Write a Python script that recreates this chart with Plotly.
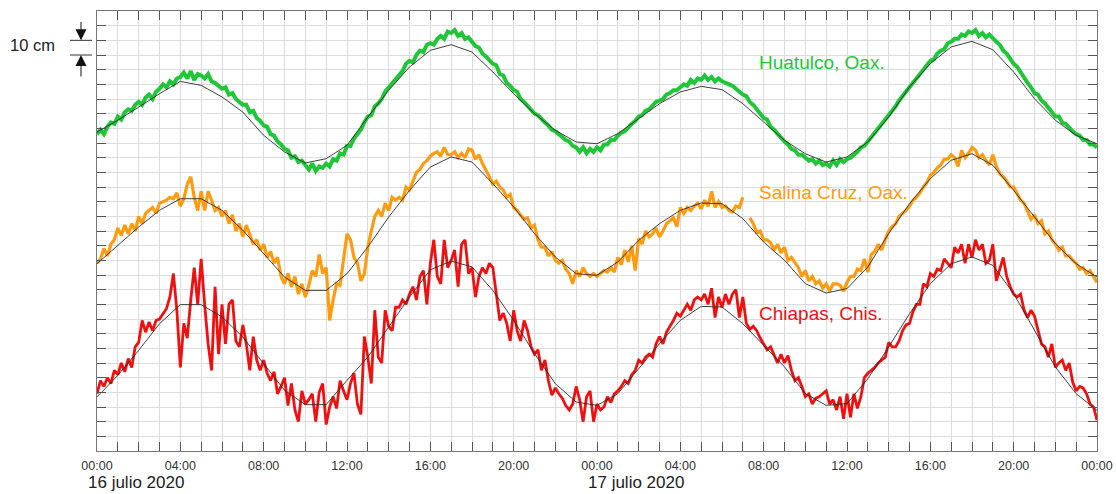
import plotly.graph_objects as go

# ---------------- data (sea level, cm above plot baseline) ----------------
hours = list(range(49))                       # hourly predicted tide
obs_times = [i / 6 for i in range(289)]       # 10-minute observed record (hours)

x_tick_labels = ["00:00" if h % 24 == 0 else (f"{h % 24:02d}:00" if h % 4 == 0 else "")
                 for h in hours]
day_labels = ["16 julio 2020", "17 julio 2020"]
day_hours = [0, 24]
station_names = ["Huatulco, Oax.", "Salina Cruz, Oax.", "Chiapas, Chis."]
station_colors = ["#1fc738", "#ff9b0f", "#f01010"]
label_y = [265, 176, 94]

huatulco_pred = [217.5, 225.5, 234.5, 243.6, 252.0, 249.3, 241.4, 231.1, 215.2, 203.9,
                 196.4, 199.3, 208.4, 227.7, 245.9, 261.8, 273.2, 277.0, 272.0, 258.4,
                 243.6, 230.0, 218.6, 210.7, 209.5, 216.4, 226.6, 236.8, 244.8, 248.6,
                 246.4, 236.8, 224.3, 211.8, 202.7, 197.0, 200.5, 210.7, 227.7, 248.2,
                 264.1, 275.5, 279.3, 273.6, 258.4, 240.2, 225.5, 215.2, 209.5]

salina_pred = [127.7, 140.2, 152.7, 164.1, 172.0, 172.0, 164.1, 150.5, 134.5, 118.6,
               109.5, 109.5, 120.9, 139.1, 159.5, 177.7, 193.6, 200.5, 197.0, 182.3,
               166.4, 148.2, 132.3, 120.9, 119.8, 128.9, 143.6, 155.0, 164.1, 169.1,
               168.6, 158.4, 142.5, 130.0, 114.1, 107.7, 110.7, 125.5, 148.2, 168.6,
               185.7, 198.2, 202.7, 194.8, 177.7, 159.5, 141.4, 127.7, 118.6]

chiapas_pred = [36.8, 51.6, 68.6, 86.8, 99.8, 99.8, 91.4, 77.7, 59.5, 41.4,
                31.6, 31.6, 48.2, 64.1, 84.5, 105.0, 123.6, 129.5, 125.5, 109.5,
                89.1, 66.4, 45.9, 33.4, 31.1, 39.1, 56.1, 73.2, 89.1, 98.6,
                98.2, 86.8, 72.0, 57.3, 39.1, 31.1, 32.3, 49.3, 70.9, 93.6,
                114.1, 127.7, 132.3, 126.6, 107.3, 82.3, 57.3, 39.1, 27.7]

huatulco_obs = [
    216, 219, 216, 221, 224, 223,
    228, 226, 231, 233, 232, 236,
    238, 236, 241, 243, 240, 245,
    247, 250, 248, 252, 250, 254,
    255, 258, 254, 259, 253, 257,
    256, 254, 257, 252, 251, 249,
    247, 248, 243, 244, 240, 238,
    236, 236, 231, 232, 227, 225,
    222, 221, 216, 215, 211, 209,
    206, 205, 200, 201, 197, 198,
    195, 192, 196, 191, 194, 193,
    196, 194, 199, 198, 203, 202,
    208, 208, 213, 216, 219, 224,
    228, 229, 235, 237, 240, 245,
    248, 250, 254, 257, 259, 264,
    266, 265, 270, 273, 272, 277,
    278, 277, 281, 283, 281, 286,
    285, 287, 283, 285, 281, 282,
    279, 276, 275, 271, 269, 266,
    264, 263, 257, 256, 251, 249,
    246, 245, 240, 238, 235, 232,
    230, 229, 226, 224, 222, 219,
    218, 216, 214, 212, 211, 208,
    207, 204, 207, 203, 206, 204,
    207, 205, 209, 209, 212, 212,
    215, 217, 218, 221, 223, 225,
    228, 229, 232, 233, 236, 238,
    239, 240, 243, 244, 246, 246,
    248, 250, 249, 253, 251, 254,
    253, 256, 253, 255, 252, 254,
    252, 251, 250, 249, 247, 245,
    243, 242, 238, 236, 233, 230,
    227, 226, 221, 219, 216, 213,
    211, 209, 206, 205, 202, 202,
    200, 198, 199, 196, 198, 195,
    196, 194, 198, 195, 199, 197,
    199, 200, 202, 204, 207, 208,
    211, 214, 216, 220, 223, 226,
    229, 232, 235, 239, 242, 245,
    248, 250, 254, 257, 259, 263,
    266, 267, 271, 273, 274, 278,
    279, 281, 281, 284, 283, 286,
    285, 287, 283, 285, 282, 284,
    281, 279, 277, 273, 271, 267,
    264, 262, 258, 255, 251, 248,
    244, 243, 239, 237, 234, 231,
    228, 228, 224, 223, 220, 218,
    216, 215, 212, 212, 209, 209,
    207]

salina_obs = [
    128, 131, 138, 133, 141, 144,
    152, 147, 154, 148, 155, 150,
    160, 155, 162, 164, 166, 162,
    169, 170, 171, 173, 172, 176,
    167, 172, 182, 187, 173, 164,
    177, 164, 177, 171, 164, 166,
    160, 164, 155, 161, 150, 155,
    146, 154, 148, 141, 144, 137,
    141, 132, 136, 128, 132, 119,
    114, 121, 112, 119, 107, 114,
    105, 113, 123, 119, 134, 121,
    125, 89, 103, 114, 113, 132,
    148, 144, 132, 128, 116, 121,
    139, 150, 160, 164, 160, 169,
    164, 173, 171, 173, 171, 180,
    178, 184, 190, 192, 196, 198,
    201, 203, 204, 201, 207, 202,
    202, 204, 200, 203, 200, 206,
    205, 199, 202, 196, 192, 187,
    182, 184, 180, 178, 173, 175,
    166, 164, 161, 158, 159, 152,
    154, 144, 139, 139, 133, 136,
    130, 128, 130, 124, 121, 114,
    123, 119, 125, 121, 119, 121,
    119, 121, 123, 122, 125, 122,
    132, 127, 137, 129, 140, 123,
    145, 141, 150, 146, 148, 152,
    146, 150, 155, 157, 159, 153,
    166, 162, 166, 164, 167, 169,
    165, 171, 167, 177, 166, 170,
    166, 167, 164, 163, 167, 166,
    173, None, 159, 155, 149, 150,
    144, 144, 142, 137, 141, 135,
    139, 130, 132, 128, 125, 119,
    123, 116, 119, 114, 116, 111,
    114, 109, 114, 114, 113, 109,
    115, 119, 119, 124, 123, 131,
    122, 134, 136, 141, 137, 144,
    150, 153, 155, 160, 162, 164,
    167, 171, 173, 176, 180, 183,
    188, 190, 193, 195, 199, 199,
    202, 200, 194, 205, 200, 203,
    207, 205, 200, 202, 198, 195,
    202, 194, 189, 187, 184, 180,
    180, 175, 171, 169, 164, 158,
    161, 155, 157, 148, 150, 144,
    141, 137, 139, 133, 133, 130,
    128, 124, 125, 121, 123, 119,
    115]

chiapas_obs = [
    39, 48, 44, 50, 46, 55,
    52, 60, 54, 63, 57, 71,
    74, 89, 81, 88, 82, 89,
    90, 94, 97, 105, 121, 96,
    57, 87, 77, 103, 125, 100,
    131, 100, 73, 55, 112, 66,
    100, 73, 100, 103, 75, 71,
    86, 73, 55, 78, 62, 55,
    62, 53, 48, 54, 39, 44,
    50, 31, 46, 28, 20, 41,
    32, 35, 39, 20, 40, 46,
    18, 30, 37, 29, 48, 41,
    35, 46, 53, 32, 25, 78,
    64, 46, 96, 64, 60, 96,
    85, 82, 98, 98, 103, 100,
    107, 112, 103, 119, 123, 100,
    128, 144, 119, 114, 144, 125,
    130, 137, 112, 141, 144, 121,
    125, 105, 119, 125, 121, 128,
    125, 107, 89, 94, 87, 75,
    96, 82, 75, 89, 82, 71,
    66, 69, 55, 62, 48, 38,
    43, 39, 36, 31, 28, 32,
    44, 35, 20, 37, 41, 20,
    32, 28, 30, 37, 33, 39,
    41, 44, 48, 46, 52, 55,
    62, 60, 64, 66, 64, 73,
    78, 73, 81, 85, 89, 94,
    92, 96, 100, 96, 103, 105,
    103, 107, 100, 111, 91, 105,
    98, 107, 100, 107, 110, 91,
    105, 87, 83, 85, 82, 77,
    73, 69, 71, 66, 60, 66,
    60, 65, 55, 48, 50, 44,
    37, 39, 32, 36, 37, 39,
    41, 32, 35, 28, 37, 22,
    39, 23, 39, 29, 37, 50,
    53, 55, 57, 60, 62, 64,
    74, 71, 71, 75, 82, 86,
    87, 95, 100, 100, 114, 112,
    121, 119, 124, 123, 131, 128,
    125, 139, 135, 141, 128, 141,
    132, 144, 137, 141, 128, 130,
    141, 116, 125, 132, 119, 112,
    107, 105, 107, 96, 91, 96,
    92, 82, 73, 71, 64, 73,
    57, 60, 62, 55, 60, 47,
    41, 44, 43, 39, 32, 30,
    21]

observed = [huatulco_obs, salina_obs, chiapas_obs]
predicted = [huatulco_pred, salina_pred, chiapas_pred]

# ---------------- figure ----------------
fig = go.Figure()
for obs, col, w in zip(observed, station_colors, [4, 3.2, 2.8]):
    fig.add_trace(go.Scatter(x=obs_times, y=obs, mode="lines",
                             line=dict(color=col, width=w),
                             connectgaps=False, hoverinfo="skip"))
for pred in predicted:
    fig.add_trace(go.Scatter(x=hours, y=pred, mode="lines",
                             line=dict(color="#2a2a2a", width=0.9),
                             hoverinfo="skip"))

font_family = "Liberation Sans, Arial, sans-serif"

for name, col, yy in zip(station_names, station_colors, label_y):
    fig.add_annotation(x=31.68, y=yy, xref="x", yref="y", text=name,
                       showarrow=False, xanchor="left", yanchor="middle",
                       font=dict(family=font_family, size=19, color=col))

for lab, h in zip(day_labels, day_hours):
    fig.add_annotation(x=h, y=0, xref="x", yref="paper", text=lab,
                       showarrow=False, xanchor="left", yanchor="middle",
                       xshift=-11, yshift=-31,
                       font=dict(family=font_family, size=17, color="#222"))

# 10 cm scale marker
fig.add_annotation(x=-0.089, y=277, xref="paper", yref="y", text="10 cm",
                   showarrow=False, xanchor="left", yanchor="middle",
                   font=dict(family=font_family, size=16.5, color="#222"))
for yv in [280, 270]:
    fig.add_shape(type="line", xref="paper", yref="y", x0=-0.027, x1=-0.005,
                  y0=yv, y1=yv, line=dict(color="#333", width=1))
fig.add_annotation(x=-0.016, y=280, xref="paper", yref="y", text="",
                   showarrow=True, ax=0, ay=-20, arrowhead=2, arrowsize=2.2,
                   arrowwidth=1, arrowcolor="#111")
fig.add_annotation(x=-0.016, y=270, xref="paper", yref="y", text="",
                   showarrow=True, ax=0, ay=23, arrowhead=2, arrowsize=2.2,
                   arrowwidth=1, arrowcolor="#111")

fig.update_xaxes(range=[0, 48], tickmode="array", tickvals=hours, ticktext=x_tick_labels,
                 ticks="inside", ticklen=9, tickcolor="#555", tickwidth=1,
                 showline=True, linecolor="#777", linewidth=1, mirror="allticks",
                 showgrid=True, gridcolor="#dcdcdc", gridwidth=1, zeroline=False,
                 ticklabelstandoff=3, automargin=False,
                 tickfont=dict(family=font_family, size=12.5, color="#333"))
fig.update_yaxes(range=[0, 300], tickmode="linear", tick0=0, dtick=10,
                 ticks="inside", ticklen=9, tickcolor="#555", tickwidth=1,
                 showline=True, linecolor="#777", linewidth=1, mirror="allticks",
                 showgrid=True, gridcolor="#dcdcdc", gridwidth=1, zeroline=False,
                 showticklabels=False, automargin=False)

fig.update_layout(width=1116, height=494, showlegend=False,
                  margin=dict(l=97, r=19, t=11, b=43, autoexpand=False),
                  plot_bgcolor="white", paper_bgcolor="white")

fig.write_html("out.html", config={"displayModeBar": False},
               post_script="document.body.style.margin='0';"
                           "document.body.style.overflow='hidden';")
